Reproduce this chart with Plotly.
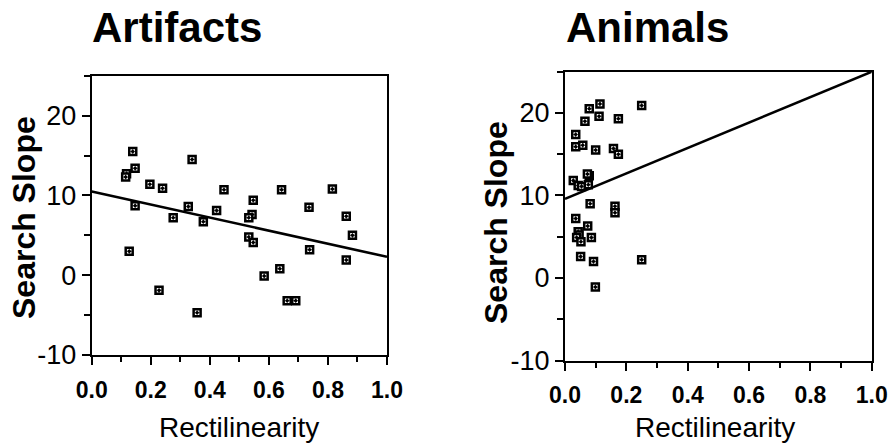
import plotly.graph_objects as go

W, H = 888, 445

# ---- data ----
art_x = [0.139, 0.118, 0.115, 0.147, 0.197, 0.240, 0.147, 0.127, 0.228, 0.276,
         0.327, 0.340, 0.378, 0.357, 0.423, 0.448, 0.547, 0.543, 0.532, 0.532,
         0.547, 0.584, 0.637, 0.643, 0.662, 0.691, 0.736, 0.738, 0.815, 0.862,
         0.883, 0.862]
art_y = [15.5, 12.7, 12.3, 13.4, 11.4, 10.9, 8.7, 3.0, -1.9, 7.2,
         8.6, 14.5, 6.7, -4.7, 8.1, 10.7, 9.4, 7.6, 7.2, 4.8,
         4.1, -0.1, 0.8, 10.7, -3.2, -3.2, 8.5, 3.2, 10.8, 7.4,
         5.0, 1.9]
ani_x = [0.114, 0.079, 0.111, 0.065, 0.174, 0.250, 0.035, 0.035, 0.058, 0.100,
         0.158, 0.174, 0.027, 0.043, 0.054, 0.076, 0.079, 0.073, 0.082, 0.163,
         0.163, 0.035, 0.074, 0.043, 0.046, 0.038, 0.052, 0.086, 0.051, 0.093,
         0.250, 0.099]
ani_y = [21.1, 20.5, 19.6, 19.0, 19.3, 20.9, 17.4, 15.9, 16.1, 15.5,
         15.7, 15.0, 11.8, 11.2, 11.1, 11.3, 12.4, 12.6, 9.0, 8.7,
         7.9, 7.2, 6.3, 5.6, 5.2, 4.9, 4.4, 4.9, 2.6, 2.0,
         2.2, -1.1]
fit_x = [0.0, 1.0]
art_fit_y = [10.5, 2.3]
ani_fit_y = [9.6, 25.0]

titles = ["Artifacts", "Animals"]
x_title = "Rectilinearity"
y_title = "Search Slope"
x_ticks = [0.0, 0.2, 0.4, 0.6, 0.8, 1.0]
x_ticktext = ["0.0", "0.2", "0.4", "0.6", "0.8", "1.0"]
y_ticks = [-10, 0, 10, 20]
y_ticktext = ["-10", "0", "10", "20"]

FONT = "Liberation Sans, Arial, Helvetica, sans-serif"

# ---- layout geometry (pixels) ----
L1, R1, T1, B1 = 91.7, 387.0, 75.7, 355.0
L2, R2, T2, B2 = 565.0, 871.7, 71.7, 360.5

def px(v):
    return v / W

def py(v):
    return 1 - v / H

fig = go.Figure()

marker = dict(symbol="square-dot", size=7, color="white",
              line=dict(color="black", width=2.5))

fig.add_trace(go.Scatter(x=art_x, y=art_y, mode="markers", marker=marker,
                         xaxis="x", yaxis="y", showlegend=False))
fig.add_trace(go.Scatter(x=fit_x, y=art_fit_y, mode="lines",
                         line=dict(color="black", width=2.5),
                         xaxis="x", yaxis="y", showlegend=False))
fig.add_trace(go.Scatter(x=ani_x, y=ani_y, mode="markers", marker=marker,
                         xaxis="x2", yaxis="y2", showlegend=False))
fig.add_trace(go.Scatter(x=fit_x, y=ani_fit_y, mode="lines",
                         line=dict(color="black", width=2.5),
                         xaxis="x2", yaxis="y2", showlegend=False))

def xaxis(dom, anchor):
    return dict(domain=dom, anchor=anchor, range=[0, 1], showgrid=False,
                automargin=False,
                zeroline=False, showline=True, linecolor="black", linewidth=2,
                mirror=True, ticks="outside", ticklen=8, tickwidth=1.5,
                tickcolor="black", tickvals=x_ticks, ticktext=x_ticktext,
                ticklabelstandoff=5,
                tickfont=dict(family=FONT, size=23, color="black", weight="bold"),
                minor=dict(dtick=0.1, ticks="outside", ticklen=5, tickwidth=1.5,
                           tickcolor="black", showgrid=False))

def yaxis(dom, anchor):
    return dict(domain=dom, anchor=anchor, range=[-10, 25], showgrid=False,
                automargin=False,
                zeroline=False, showline=True, linecolor="black", linewidth=2,
                mirror=True, ticks="outside", ticklen=8, tickwidth=1.5,
                tickcolor="black", tickvals=y_ticks, ticktext=y_ticktext,
                tickfont=dict(family=FONT, size=27, color="black"),
                minor=dict(dtick=5, tick0=0, ticks="outside", ticklen=6, tickwidth=1.5,
                           tickcolor="black", showgrid=False))

annotations = [
    dict(text=titles[0], x=px(L1 - 2), y=py(28), xanchor="left", yanchor="middle",
         font=dict(family=FONT, size=42, color="black", weight="bold")),
    dict(text=titles[1], x=px(L2 - 1), y=py(28), xanchor="left", yanchor="middle",
         font=dict(family=FONT, size=42, color="black", weight="bold")),
    dict(text=x_title, x=px((L1 + R1) / 2), y=py(427), xanchor="center", yanchor="middle",
         font=dict(family=FONT, size=28, color="black")),
    dict(text=x_title, x=px((L2 + R2) / 2 - 3), y=py(427), xanchor="center", yanchor="middle",
         font=dict(family=FONT, size=28, color="black")),
    dict(text=y_title, x=px(24), y=py(218), xanchor="center", yanchor="middle",
         textangle=-90, font=dict(family=FONT, size=32, color="black", weight="bold")),
    dict(text=y_title, x=px(496), y=py(222), xanchor="center", yanchor="middle",
         textangle=-90, font=dict(family=FONT, size=32, color="black", weight="bold")),
]
for a in annotations:
    a.update(xref="paper", yref="paper", showarrow=False)

fig.update_layout(
    width=W, height=H,
    margin=dict(l=0, r=0, t=0, b=0),
    paper_bgcolor="white", plot_bgcolor="white",
    xaxis=xaxis([px(L1), px(R1)], "y"),
    yaxis=yaxis([py(B1), py(T1)], "x"),
    xaxis2=xaxis([px(L2), px(R2)], "y2"),
    yaxis2=yaxis([py(B2), py(T2)], "x2"),
    annotations=annotations,
)

fig.write_html("out.html")
